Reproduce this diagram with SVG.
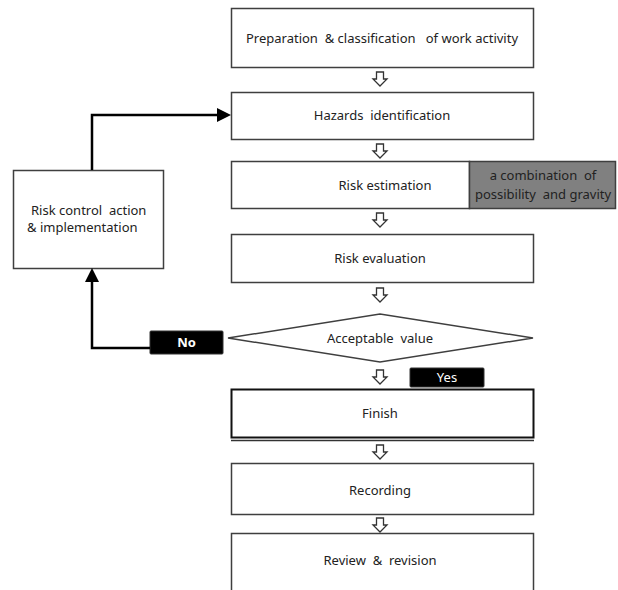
<svg xmlns="http://www.w3.org/2000/svg" width="618" height="590" viewBox="0 0 618 590">
<style>
.box{fill:#fff;stroke:#3f3f3f;stroke-width:1.5}
.t{font-family:"Noto Sans","Open Sans",sans-serif;font-size:13px;fill:#222;text-anchor:middle;white-space:pre}
.tl{font-family:"Noto Sans","Open Sans",sans-serif;font-size:13px;fill:#222;white-space:pre}
.lbl{fill:#000;stroke:#333;stroke-width:1}
.lt{font-family:"Noto Sans","Open Sans",sans-serif;font-size:13px;fill:#fff;text-anchor:middle}
.blk{fill:#fff;stroke:#333;stroke-width:1.3;stroke-linejoin:miter}
.ln{fill:none;stroke:#000;stroke-width:2.5}
</style>
<defs>
<path id="ba" d="M-3.5,0 H3.5 V7 H7 L0,14 L-7,7 H-3.5 Z"/>
</defs>
<rect width="618" height="590" fill="#fff"/>
<g id="n1"><rect class="box" x="231.5" y="8.5" width="302" height="59"/><text class="t" x="382" y="43">Preparation  &amp; classification   of work activity</text></g>
<g id="n2"><rect class="box" x="231.5" y="92.5" width="302" height="47"/><text class="t" x="382" y="120">Hazards  identification</text></g>
<g id="n3"><rect class="box" x="231.5" y="161.5" width="238" height="47"/><text class="t" x="385" y="190">Risk estimation</text></g>
<g id="n3b"><rect x="469.5" y="161.5" width="146" height="47" fill="#808080" stroke="#3f3f3f" stroke-width="1.5"/><text class="t" x="543" y="180">a combination  of</text><text class="t" x="543" y="199">possibility  and gravity</text></g>
<g id="n4"><rect class="box" x="231.5" y="234.5" width="302" height="48"/><text class="t" x="380" y="263">Risk evaluation</text></g>
<g id="n5"><polygon class="box" points="228,338 380,314 533,338 380,362"/><text class="t" x="380" y="343">Acceptable  value</text></g>
<g id="n6"><rect x="231.5" y="389.5" width="302" height="48" fill="#fff" stroke="#111" stroke-width="2"/><line x1="231" y1="440.5" x2="534" y2="440.5" stroke="#333" stroke-width="1.3"/><text class="t" x="380" y="418">Finish</text></g>
<g id="n7"><rect class="box" x="231.5" y="463.5" width="302" height="51"/><text class="t" x="380" y="495">Recording</text></g>
<g id="n8"><rect class="box" x="231.5" y="533.5" width="302" height="60"/><text class="t" x="380" y="565">Review  &amp;  revision</text></g>
<g id="n9"><rect class="box" x="13.5" y="170.5" width="150" height="98"/><text class="tl" x="31" y="215">Risk control  action</text><text class="tl" x="27" y="232">&amp; implementation</text></g>
<g id="lno"><rect class="lbl" x="150" y="331" width="73" height="23" rx="1"/><text class="lt" x="186.5" y="347" font-weight="bold">No</text></g>
<g id="lyes"><rect class="lbl" x="410" y="368" width="74" height="19" rx="1"/><text class="lt" x="447" y="382">Yes</text></g>
<g id="connectors">
<use href="#ba" class="blk" x="380" y="72"/>
<use href="#ba" class="blk" x="380" y="144"/>
<use href="#ba" class="blk" x="380" y="213"/>
<use href="#ba" class="blk" x="380" y="288"/>
<use href="#ba" class="blk" x="380" y="370"/>
<use href="#ba" class="blk" x="380" y="445"/>
<use href="#ba" class="blk" x="380" y="518"/>
<polyline class="ln" points="92,170 92,115 219,115"/>
<polygon points="217,108 231,115 217,122" fill="#000"/>
<polyline class="ln" points="150,348 92,348 92,282"/>
<polygon points="85,282 92,268 99,282" fill="#000"/>
</g>
</svg>
